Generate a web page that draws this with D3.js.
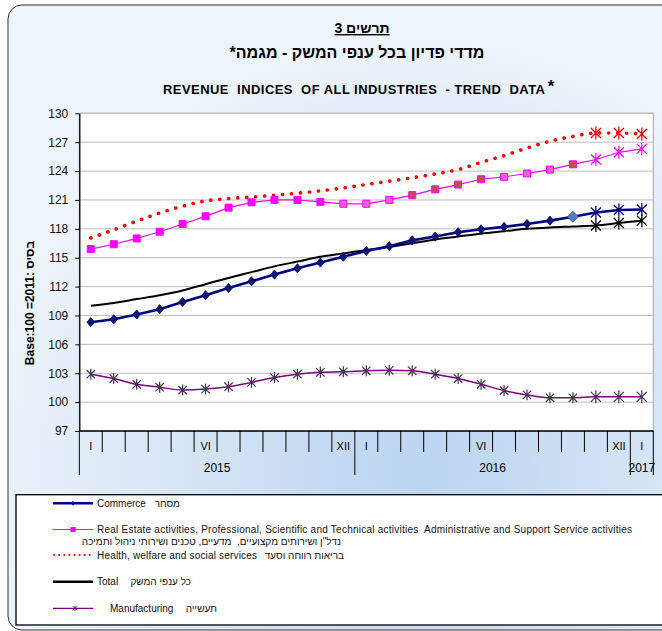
<!DOCTYPE html>
<html>
<head>
<meta charset="utf-8">
<script src="https://cdn.jsdelivr.net/npm/d3@7"></script>
<style>
  body { margin: 0; background: #fff; }
  svg { display: block; font-family: "Liberation Sans", Arial, sans-serif; }
  text { white-space: pre; }
</style>
</head>
<body>
<svg width="662" height="631"></svg>
<script>
// months Jan 2015 .. Jan 2017
const months = ["I","II","III","IV","V","VI","VII","VIII","IX","X","XI","XII",
                "I","II","III","IV","V","VI","VII","VIII","IX","X","XI","XII","I"];
const monthLabels = ["I","","","","","VI","","","","","","XII","I","","","","","VI","","","","","","XII","I"];
const years = [{ label: "2015", from: 0, to: 12 }, { label: "2016", from: 12, to: 24 }, { label: "2017", from: 24, to: 25 }];
const yTicks = [97, 100, 103, 106, 109, 112, 115, 118, 121, 124, 127, 130];

// series values
const commerce = [108.3, 108.6, 109.1, 109.65, 110.4, 111.1, 111.85, 112.55, 113.25, 113.9, 114.5, 115.1, 115.7,
                  116.2, 116.8, 117.2, 117.65, 117.95, 118.2, 118.5, 118.85, 119.25, 119.7, 119.95, 120.0];
const realEstate = [115.9, 116.4, 117.0, 117.7, 118.5, 119.3, 120.2, 120.75, 121.0, 121.0, 120.8, 120.6, 120.6,
                    121.0, 121.5, 122.1, 122.6, 123.15, 123.4, 123.75, 124.15, 124.7, 125.2, 125.95, 126.3];
const health = [117.05, 117.9, 118.8, 119.65, 120.35, 120.9, 121.15, 121.3, 121.5, 121.7, 121.95, 122.25, 122.6,
                122.95, 123.3, 123.7, 124.15, 124.9, 125.6, 126.4, 127.1, 127.6, 127.95, 127.95, 127.85];
const total = [110.0, 110.3, 110.7, 111.1, 111.6, 112.25, 112.9, 113.5, 114.1, 114.6, 115.1, 115.45, 115.8,
               116.1, 116.5, 116.9, 117.2, 117.5, 117.75, 118.0, 118.15, 118.25, 118.35, 118.6, 118.85];
const manufacturing = [102.9, 102.45, 101.85, 101.55, 101.25, 101.35, 101.6, 102.05, 102.55, 102.9, 103.1, 103.15, 103.25,
                       103.3, 103.25, 102.9, 102.45, 101.85, 101.2, 100.75, 100.45, 100.45, 100.55, 100.55, 100.55];
const forecastFrom = 22;

const svg = d3.select("svg");
const plot = { left: 79.3, right: 653.3, top: 113.3, bottom: 431 };

// background gradient
const defs = svg.append("defs");
const grad = defs.append("radialGradient").attr("id", "bg")
    .attr("gradientUnits", "userSpaceOnUse")
    .attr("cx", 420).attr("cy", 470).attr("r", 440);
grad.append("stop").attr("offset", 0).attr("stop-color", "#bad4f0");
grad.append("stop").attr("offset", 1).attr("stop-color", "#eef4fb");

svg.append("rect")
    .attr("x", 8).attr("y", 5).attr("width", 700).attr("height", 625)
    .attr("rx", 14)
    .attr("fill", "url(#bg)")
    .attr("stroke", "#333").attr("stroke-width", 1);

// titles
svg.append("text").attr("x", 362).attr("y", 33).attr("text-anchor", "middle")
    .attr("font-size", 14).attr("font-weight", "bold").attr("text-decoration", "underline")
    .text("תרשים 3");
svg.append("text").attr("x", 357).attr("y", 58).attr("text-anchor", "middle")
    .attr("font-size", 16).attr("font-weight", "bold").attr("direction", "rtl")
    .text("מדדי פדיון בכל ענפי המשק - מגמה*");
svg.append("text").attr("x", 163).attr("y", 94)
    .attr("font-size", 13).attr("font-weight", "bold")
    .attr("textLength", 382).attr("lengthAdjust", "spacing")
    .text("REVENUE  INDICES  OF ALL INDUSTRIES  - TREND  DATA");
svg.append("text").attr("x", 551).attr("y", 92).attr("text-anchor", "middle")
    .attr("font-size", 17).attr("font-weight", "bold")
    .text("*");

// scales
const x = d3.scaleBand().domain(d3.range(months.length)).range([plot.left, plot.right]).padding(0);
const y = d3.scaleLinear().domain([97, 130]).range([plot.bottom, plot.top]);
const cx = i => x(i) + x.bandwidth() / 2;

// plot area
svg.append("rect")
    .attr("x", plot.left).attr("y", plot.top)
    .attr("width", plot.right - plot.left).attr("height", plot.bottom - plot.top)
    .attr("fill", "#fff").attr("stroke", "#a6a6a6").attr("stroke-width", 1);

svg.append("g").selectAll("line")
    .data(yTicks.slice(1))
    .enter().append("line")
    .attr("x1", plot.left).attr("x2", plot.right)
    .attr("y1", d => y(d)).attr("y2", d => y(d))
    .attr("stroke", "#bcbcbc").attr("stroke-width", 1);

// y axis
const yAxis = svg.append("g")
    .attr("transform", `translate(${plot.left},0)`)
    .call(d3.axisLeft(y).tickValues(yTicks).tickSize(4).tickSizeOuter(0).tickPadding(7));
yAxis.select(".domain").attr("stroke", "#000").attr("stroke-width", 1.3);
yAxis.selectAll(".tick line").attr("stroke", "#000");
yAxis.selectAll("text").attr("font-size", 12).attr("fill", "#111")
    .attr("font-family", "Liberation Sans, Arial, sans-serif");

svg.append("text")
    .attr("transform", "translate(34,303) rotate(-90)")
    .attr("text-anchor", "middle")
    .attr("font-size", 12).attr("font-weight", "bold")
    .text("Base:100 =2011: בסיס");

// x axis: month ticks, month labels, year separators
const xg = svg.append("g");
xg.append("line")
    .attr("x1", plot.left).attr("x2", plot.right)
    .attr("y1", plot.bottom).attr("y2", plot.bottom)
    .attr("stroke", "#000").attr("stroke-width", 1.3);
xg.selectAll(".mtick")
    .data(d3.range(months.length + 1))
    .enter().append("line")
    .attr("class", "mtick")
    .attr("x1", i => i < months.length ? x(i) : plot.right)
    .attr("x2", i => i < months.length ? x(i) : plot.right)
    .attr("y1", plot.bottom)
    .attr("y2", i => (i === 0 || i === 12 || i === 24 || i === 25) ? 475 : 452)
    .attr("stroke", "#000").attr("stroke-width", 1);
xg.selectAll(".mlabel")
    .data(monthLabels)
    .enter().append("text")
    .attr("class", "mlabel")
    .attr("x", (d, i) => cx(i))
    .attr("y", 450)
    .attr("text-anchor", "middle")
    .attr("font-size", 11)
    .text(d => d);
xg.selectAll(".ylabel")
    .data(years)
    .enter().append("text")
    .attr("class", "ylabel")
    .attr("x", d => (x(d.from) + (d.to < months.length ? x(d.to) : plot.right)) / 2)
    .attr("y", 472)
    .attr("text-anchor", "middle")
    .attr("font-size", 12)
    .text(d => d.label);

// marker shapes
function starPath(s) {
    return `M${-s},${-s}L${s},${s}M${-s},${s}L${s},${-s}M0,${-s * 1.3}L0,${s * 1.3}`;
}
function diamondPath(h, w) {
    return `M0,${-h}L${w},0L0,${h}L${-w},0Z`;
}

const linear = d3.line().x((d, i) => cx(i)).y(d => y(d));
const smooth = d3.line().x((d, i) => cx(i)).y(d => y(d)).curve(d3.curveMonotoneX);

const series = svg.append("g");

// manufacturing
series.append("path").datum(manufacturing)
    .attr("d", smooth).attr("fill", "none")
    .attr("stroke", "#800080").attr("stroke-width", 1.5);
series.selectAll(".manu")
    .data(manufacturing)
    .enter().append("path")
    .attr("class", "manu")
    .attr("transform", (d, i) => `translate(${cx(i)},${y(d)})`)
    .attr("d", (d, i) => starPath(i >= forecastFrom ? 5 : 4.2))
    .attr("fill", "none").attr("stroke", "#3f3552").attr("stroke-width", 1.2);

// health (dotted)
series.append("path").datum(health)
    .attr("d", smooth).attr("fill", "none")
    .attr("stroke", "#ff0000").attr("stroke-width", 3.6)
    .attr("stroke-linecap", "round").attr("stroke-dasharray", "0.1 8.9");
series.selectAll(".health")
    .data(health)
    .enter().filter((d, i) => i >= forecastFrom).append("path")
    .attr("class", "health")
    .attr("transform", (d, i) => `translate(${cx(i + forecastFrom)},${y(d)})`)
    .attr("d", starPath(5))
    .attr("fill", "none").attr("stroke", "#ff0000").attr("stroke-width", 1.3);

// real estate
series.append("path").datum(realEstate)
    .attr("d", linear).attr("fill", "none")
    .attr("stroke", "#ff00ff").attr("stroke-width", 1.2);
const brownSquares = [14, 15, 16, 17, 21];
series.selectAll(".re")
    .data(realEstate)
    .enter().append("path")
    .attr("class", "re")
    .attr("transform", (d, i) => `translate(${cx(i)},${y(d)})`)
    .attr("d", (d, i) => i >= forecastFrom ? starPath(5) : "M-3.5,-3.5H3.5V3.5H-3.5Z")
    .attr("fill", (d, i) => i >= forecastFrom ? "none"
        : brownSquares.includes(i) ? "#c0504d" : (i > 10 ? "#f25fd2" : "#ff00ff"))
    .attr("stroke", "#ff00ff").attr("stroke-width", (d, i) => i >= forecastFrom ? 1.2 : 1);

// total
series.append("path").datum(total)
    .attr("d", smooth).attr("fill", "none")
    .attr("stroke", "#000").attr("stroke-width", 2);
series.selectAll(".tot")
    .data(total)
    .enter().filter((d, i) => i >= forecastFrom).append("path")
    .attr("class", "tot")
    .attr("transform", (d, i) => `translate(${cx(i + forecastFrom)},${y(d)})`)
    .attr("d", starPath(5))
    .attr("fill", "none").attr("stroke", "#000").attr("stroke-width", 1.3);

// commerce
series.append("path").datum(commerce)
    .attr("d", linear).attr("fill", "none")
    .attr("stroke", "#000080").attr("stroke-width", 2.6);
series.selectAll(".com")
    .data(commerce)
    .enter().append("path")
    .attr("class", "com")
    .attr("transform", (d, i) => `translate(${cx(i)},${y(d)})`)
    .attr("d", (d, i) => i >= forecastFrom ? starPath(5) : (i === 21 ? diamondPath(5.5, 5.5) : diamondPath(4.6, 3.8)))
    .attr("fill", (d, i) => i >= forecastFrom ? "none" : (i === 21 ? "#4f7fbf" : "#0a1a6b"))
    .attr("stroke", (d, i) => i === 21 ? "#2c4f8a" : "#000080")
    .attr("stroke-width", (d, i) => i >= forecastFrom ? 1.3 : 0.8);

// legend
const legend = svg.append("g");
legend.append("rect")
    .attr("x", 16).attr("y", 494.7).attr("width", 680).attr("height", 130.3)
    .attr("fill", "#fff").attr("stroke", "#000").attr("stroke-width", 1.3);

const legendItems = [
    { en: "Commerce", he: "מסחר", heRight: 180, y: 503.3, color: "#000080", width: 2.6, marker: "diamond" },
    { en: "Real Estate activities, Professional, Scientific and Technical activities  Administrative and Support Service activities",
      he: "נדל\"ן ושירותים מקצועיים,  מדעיים, טכנים ושירותי ניהול ותמיכה", heRight: 341, heY: 541,
      y: 529.5, color: "#ff00ff", width: 1.2, marker: "square", enLength: 535 },
    { en: "Health, welfare and social services", he: "בריאות רווחה וסעד", heRight: 344, y: 555, color: "#ff0000", width: 2, marker: "dots", enLength: 160 },
    { en: "Total", he: "כל ענפי המשק", heRight: 191, y: 581.7, color: "#000", width: 2.4, marker: "none" },
    { en: "Manufacturing", he: "תעשייה", heRight: 217, y: 608.3, color: "#800080", width: 1.2, marker: "star", textX: 110 }
];

legendItems.forEach(item => {
    const g = legend.append("g");
    if (item.marker === "dots") {
        g.append("line").attr("x1", 54).attr("x2", 90).attr("y1", item.y).attr("y2", item.y)
            .attr("stroke", item.color).attr("stroke-width", item.width)
            .attr("stroke-linecap", "round").attr("stroke-dasharray", "0.1 5");
    } else {
        g.append("line").attr("x1", 53).attr("x2", 93).attr("y1", item.y).attr("y2", item.y)
            .attr("stroke", item.color).attr("stroke-width", item.width);
    }
    if (item.marker === "diamond") {
        g.append("path").attr("transform", `translate(73,${item.y})`).attr("d", diamondPath(2.5, 2))
            .attr("fill", "#0a1a6b");
    } else if (item.marker === "square") {
        g.append("rect").attr("x", 70.5).attr("y", item.y - 2.5).attr("width", 5).attr("height", 5)
            .attr("fill", "#ff00ff");
    } else if (item.marker === "star") {
        g.append("path").attr("transform", `translate(75,${item.y})`).attr("d", starPath(2))
            .attr("fill", "none").attr("stroke", "#3f3552").attr("stroke-width", 1);
    }
    const t = g.append("text").attr("x", item.textX || 97).attr("y", item.y + 3.5)
        .attr("font-size", 10).attr("fill", "#111")
        .text(item.en);
    if (item.enLength) t.attr("textLength", item.enLength).attr("lengthAdjust", "spacing");
    g.append("text").attr("x", item.heRight).attr("y", (item.heY || item.y) + 3.5)
        .attr("font-size", 10).attr("fill", "#111")
        .attr("text-anchor", "start").attr("direction", "rtl")
        .text(item.he);
});
</script>
</body>
</html>
